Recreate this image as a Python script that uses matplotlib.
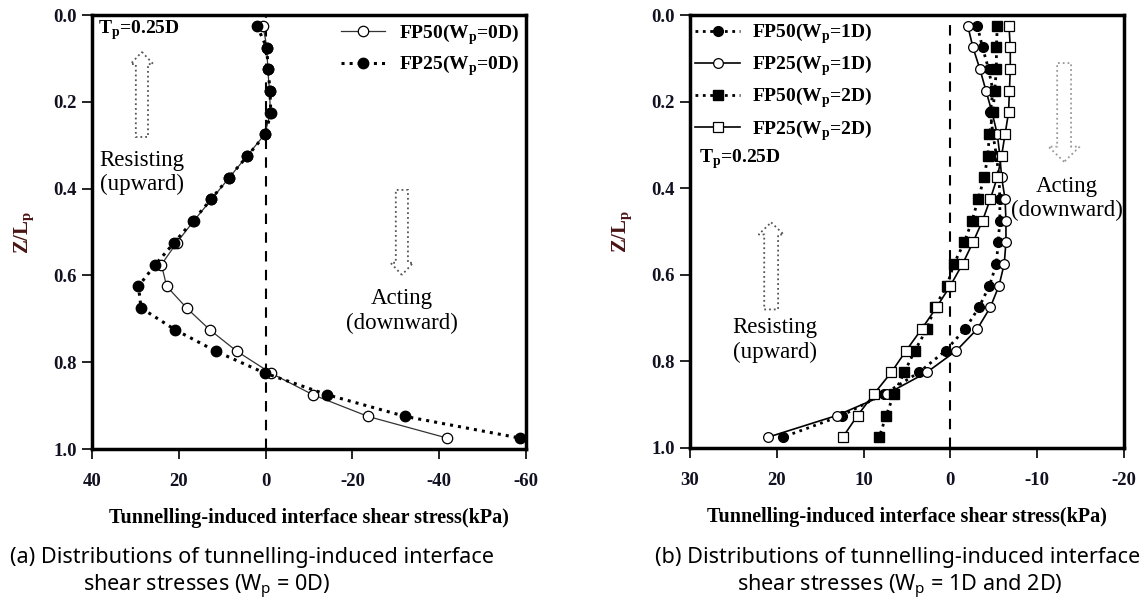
import numpy as np
import matplotlib
matplotlib.use('Agg')
import matplotlib.pyplot as plt
from matplotlib.patches import FancyArrow

plt.rcParams['mathtext.fontset'] = 'custom'
plt.rcParams['mathtext.rm'] = 'Liberation Serif'
plt.rcParams['mathtext.bf'] = 'Liberation Serif:bold'
plt.rcParams['mathtext.sf'] = 'Noto Sans'

# depth ratio Z/Lp (same for every series)
z = [0.025, 0.075, 0.125, 0.175, 0.225, 0.275, 0.325, 0.375, 0.425, 0.475,
     0.525, 0.575, 0.625, 0.675, 0.725, 0.775, 0.825, 0.875, 0.925, 0.975]

# (a) Wp = 0D
fp50_0d = [0.6, -0.3, -0.5, -0.9, -1.1, 0.2, 4.3, 8.4, 12.5, 16.6,
           20.5, 24.0, 22.8, 18.2, 12.9, 6.6, -1.2, -10.9, -23.6, -41.9]
fp25_0d = [2.0, -0.25, -0.6, -1.0, -1.2, 0.05, 4.2, 8.5, 12.6, 16.8,
           21.1, 25.4, 29.3, 28.7, 20.9, 11.4, 0.2, -14.2, -32.2, -58.7]

# (b) Wp = 1D and 2D
fp50_1d = [-3.1, -3.7, -4.4, -4.9, -4.6, -4.9, -5.3, -5.6, -5.7, -5.7,
           -5.5, -5.3, -4.5, -3.3, -1.7, 0.55, 3.6, 7.6, 12.5, 19.3]
fp25_1d = [-2.0, -2.6, -3.4, -4.1, -4.8, -5.4, -5.7, -5.9, -6.3, -6.4,
           -6.4, -6.2, -5.6, -4.6, -3.1, -0.7, 2.7, 7.3, 13.1, 21.0]
fp50_2d = [-5.4, -5.3, -5.3, -5.1, -4.9, -4.5, -4.3, -3.9, -3.2, -2.5,
           -1.6, -0.4, 0.4, 1.8, 2.7, 4.1, 5.3, 6.5, 7.4, 8.2]
fp25_2d = [-6.75, -6.9, -6.9, -6.8, -6.7, -6.3, -5.9, -5.4, -4.6, -3.7,
           -2.6, -1.4, 0.0, 1.6, 3.3, 5.1, 6.8, 8.8, 10.7, 12.4]

xticks_a = [40, 20, 0, -20, -40, -60]
xticks_b = [30, 20, 10, 0, -10, -20]
yticks = [0.0, 0.2, 0.4, 0.6, 0.8, 1.0]

serif = 'Liberation Serif'
sans = 'Noto Sans'
tick_fs = 13.5
note_fs = 16.5

fig = plt.figure(figsize=(11.44, 6.04), dpi=100)
ax1 = fig.add_axes([92/1144, 155/604, 434/1144, 434/604])
ax2 = fig.add_axes([690/1144, 156/604, 434/1144, 433/604])


def style_axis(ax, xlim, xt):
    ax.set_xlim(xlim)
    ax.set_ylim(1.0, 0.0)
    ax.set_xticks(xt)
    ax.set_xticklabels([str(v) for v in xt])
    ax.set_yticks(yticks)
    ax.set_yticklabels(['%.1f' % v for v in yticks])
    for lab in ax.get_xticklabels() + ax.get_yticklabels():
        lab.set_fontfamily(serif)
        lab.set_fontweight('bold')
        lab.set_fontsize(tick_fs)
        lab.set_color('#111122')
    ax.tick_params(axis='x', direction='out', length=7, width=1.2, pad=10)
    ax.tick_params(axis='y', direction='out', length=7, width=1.2, pad=4)
    for s in ax.spines.values():
        s.set_linewidth(2.5)
    ax.axvline(0, color='black', lw=1.5, ls=(0, (5, 4)))
    ax.set_xlabel('Tunnelling-induced interface shear stress(kPa)', fontfamily=serif,
                  fontweight='bold', fontsize=14.5, labelpad=13)
    ax.set_ylabel('Z/L$_{\\mathbf{p}}$', fontfamily=serif, fontweight='bold',
                  fontsize=15, color='#4a1414', labelpad=12)


def hollow_arrow(ax, x, y0, y1, shaft, head, hlen, color):
    ax.add_patch(FancyArrow(x, y0, 0, y1 - y0, width=shaft, head_width=head,
                            head_length=hlen, length_includes_head=True,
                            transform=ax.transAxes, fill=False, ec=color,
                            lw=1.3, ls=':'))


# ---- (a)
style_axis(ax1, (40, -60), xticks_a)
ax1.plot(fp50_0d, z, '-', color='#333333', lw=0.9, marker='o', ms=7.5,
         mfc='white', mec='black', mew=0.9, label='FP50(W$_{\\mathbf{p}}$=0D)')
ax1.plot(fp25_0d, z, ':', color='black', lw=2.2, marker='o', ms=7.5,
         mfc='black', mec='black', label='FP25(W$_{\\mathbf{p}}$=0D)')
ax1.legend(loc='upper right', bbox_to_anchor=(1.025, 1.024), frameon=False,
           prop={'family': serif, 'weight': 'bold', 'size': 14},
           handlelength=2.3, handletextpad=0.7, labelspacing=0.35)
ax1.text(0.014, 0.965, 'T$_{\\mathbf{p}}$=0.25D', transform=ax1.transAxes,
         fontfamily=serif, fontweight='bold', fontsize=14, va='center', ha='left')
ax1.text(0.115, 0.637, 'Resisting\n(upward)', transform=ax1.transAxes,
         fontfamily=serif, fontsize=note_fs, ha='center', va='center', linespacing=1.2)
ax1.text(0.714, 0.318, 'Acting\n(downward)', transform=ax1.transAxes,
         fontfamily=serif, fontsize=note_fs, ha='center', va='center', linespacing=1.2)
hollow_arrow(ax1, 0.115, 0.719, 0.915, 0.028, 0.052, 0.028, '#555555')
hollow_arrow(ax1, 0.714, 0.597, 0.401, 0.028, 0.052, 0.028, '#555555')

# ---- (b)
style_axis(ax2, (30, -20), xticks_b)
ax2.plot(fp50_1d, z, ':', color='black', lw=2.0, marker='o', ms=7,
         mfc='black', mec='black', label='FP50(W$_{\\mathbf{p}}$=1D)')
ax2.plot(fp25_1d, z, '-', color='black', lw=1.2, marker='o', ms=7,
         mfc='white', mec='black', mew=0.9, label='FP25(W$_{\\mathbf{p}}$=1D)')
ax2.plot(fp50_2d, z, ':', color='black', lw=2.0, marker='s', ms=7,
         mfc='black', mec='black', label='FP50(W$_{\\mathbf{p}}$=2D)')
ax2.plot(fp25_2d, z, '-', color='black', lw=1.2, marker='s', ms=7.5,
         mfc='white', mec='black', mew=0.9, label='FP25(W$_{\\mathbf{p}}$=2D)')
ax2.legend(loc='upper left', bbox_to_anchor=(-0.028, 1.026), frameon=False,
           prop={'family': serif, 'weight': 'bold', 'size': 14},
           handlelength=2.3, handletextpad=0.6, labelspacing=0.4)
ax2.text(0.02, 0.666, 'T$_{\\mathbf{p}}$=0.25D', transform=ax2.transAxes,
         fontfamily=serif, fontweight='bold', fontsize=14, va='center', ha='left')
ax2.text(0.196, 0.249, 'Resisting\n(upward)', transform=ax2.transAxes,
         fontfamily=serif, fontsize=note_fs, ha='center', va='center', linespacing=1.2)
ax2.text(0.869, 0.576, 'Acting\n(downward)', transform=ax2.transAxes,
         fontfamily=serif, fontsize=note_fs, ha='center', va='center', linespacing=1.2)
hollow_arrow(ax2, 0.187, 0.320, 0.521, 0.032, 0.058, 0.028, '#555555')
hollow_arrow(ax2, 0.862, 0.889, 0.661, 0.032, 0.072, 0.035, '#999999')

# ---- captions
cap_fs = 15.6
fig.text(10/1144, 1 - 557/604, '(a) Distributions of tunnelling-induced interface',
         fontfamily=sans, fontsize=cap_fs, va='center', ha='left')
fig.text(83/1144, 1 - 587/604, 'shear stresses (W$_{\\mathsf{p}}$ = 0D)',
         fontfamily=sans, fontsize=cap_fs, va='center', ha='left')
fig.text(655/1144, 1 - 557/604, '(b) Distributions of tunnelling-induced interface',
         fontfamily=sans, fontsize=cap_fs, va='center', ha='left')
fig.text(737/1144, 1 - 587/604, 'shear stresses (W$_{\\mathsf{p}}$ = 1D and 2D)',
         fontfamily=sans, fontsize=cap_fs, va='center', ha='left')

fig.savefig('out.png', dpi=100)
